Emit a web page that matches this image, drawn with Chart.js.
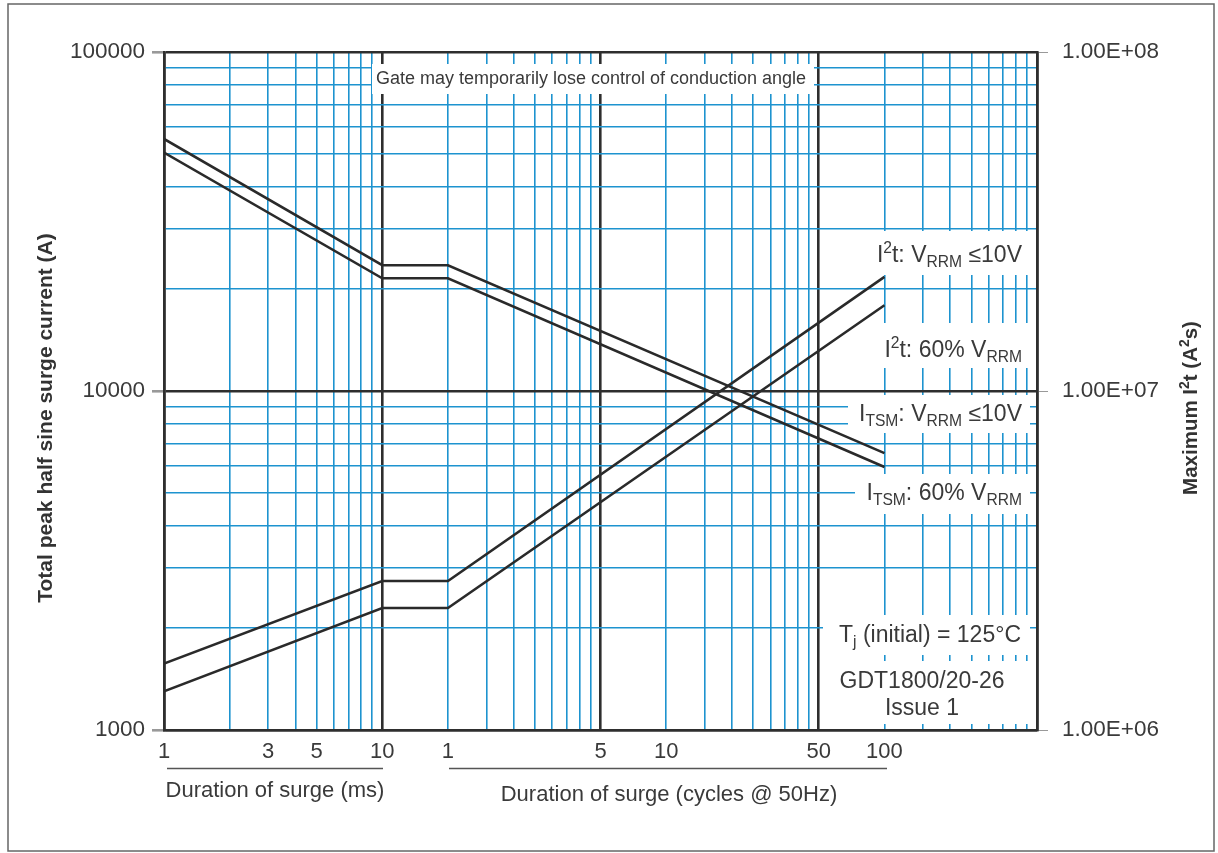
<!DOCTYPE html>
<html>
<head>
<meta charset="utf-8">
<script src="https://cdn.jsdelivr.net/npm/chart.js@4.4.1/dist/chart.umd.min.js"></script>
<style>
html,body{margin:0;padding:0;background:#fff;}
#wrap{width:1218px;height:853px;position:relative;}
</style>
</head>
<body>
<div id="wrap"><canvas id="c"></canvas></div>
<script>
// ---- data ----
const timeMs  = [1, 10, 20, 2000];               // surge duration in ms (1 cycle @50Hz = 20 ms)
const itsm10V = [55400, 23500, 23500, 6560];     // I_TSM, V_RRM <= 10V (A)
const itsm60  = [50500, 21500, 21500, 5970];     // I_TSM, 60% V_RRM (A)
const i2t10V  = [1.57e6, 2.75e6, 2.75e6, 2.17e7]; // I2t, V_RRM <= 10V (A2s)
const i2t60   = [1.30e6, 2.29e6, 2.29e6, 1.79e7]; // I2t, 60% V_RRM (A2s)

const xTickLabels = {1:'1', 3:'3', 5:'5', 10:'10', 20:'1', 100:'5', 200:'10', 1000:'50', 2000:'100'};
const xDarkLines  = [1, 10, 100, 1000, 10000];
const yTickLabels = [1000, 10000, 100000];
const yDarkLines  = [1000, 10000, 100000];
const y2TickLabels = [1e6, 1e7, 1e8];

const BLUE = '#1d93cf', DARK = '#2e2e2e', TXT = '#3a3a3a';
const FONT = '"Liberation Sans", Arial, sans-serif';

function decadeTicks(min, max){
  const out=[];
  for(let d=min; d<max; d*=10){ for(let m=1;m<10;m++) out.push({value:m*d}); }
  out.push({value:max});
  return out;
}
function near(v, list){ return list.some(a => Math.abs(v-a)/a < 1e-6); }
function sci(v){
  const e = Math.round(Math.log10(v));
  const m = v/Math.pow(10,e);
  return m.toFixed(2)+'E'+(e>=0?'+':'-')+String(Math.abs(e)).padStart(2,'0');
}

function pts(ys){ return timeMs.map((t,i)=>({x:t, y:ys[i]})); }

function drawRich(ctx, segs, x, y, align, size){
  const sub = size*0.68;
  const fontOf = s => (s.b?'bold ':'') + ((s.k==='sub'||s.k==='sup')?sub:size) + 'px ' + FONT;
  let w=0;
  segs.forEach(s=>{ ctx.font=fontOf(s); w+=ctx.measureText(s.t).width; });
  let cx = align==='right' ? x-w : align==='center' ? x-w/2 : x;
  ctx.textAlign='left'; ctx.textBaseline='alphabetic';
  segs.forEach(s=>{
    ctx.font=fontOf(s);
    let dy = s.k==='sub' ? size*0.22 : s.k==='sup' ? -size*0.40 : 0;
    ctx.fillText(s.t, cx, y+dy);
    cx += ctx.measureText(s.t).width;
  });
}

const boxes = [
  [372, 64, 814, 94],
  [858, 231, 1030, 275],
  [870, 323, 1030, 368],
  [848, 395, 1030, 433],
  [855, 474, 1030, 514],
  [823, 615, 1030, 655],
  [820, 661, 1032, 724]
];

const annot = {
  id:'annot',
  beforeDatasetsDraw(chart){
    const ctx=chart.ctx;
    ctx.save();
    ctx.fillStyle='#fff';
    boxes.forEach(b=>ctx.fillRect(b[0],b[1],b[2]-b[0],b[3]-b[1]));
    ctx.restore();
  },
  afterDraw(chart){
    const ctx=chart.ctx;
    ctx.save();
    // frame
    ctx.strokeStyle='#666'; ctx.lineWidth=1.5;
    ctx.strokeRect(8,4,1206,847);
    ctx.fillStyle=TXT;
    // gate label
    ctx.font='18px '+FONT; ctx.textAlign='center'; ctx.textBaseline='alphabetic';
    ctx.fillText('Gate may temporarily lose control of conduction angle', 591, 84);
    // curve labels
    const S=23;
    drawRich(ctx,[{t:'I'},{t:'2',k:'sup'},{t:'t: V'},{t:'RRM',k:'sub'},{t:' \u226410V'}],1022,262,'right',S);
    drawRich(ctx,[{t:'I'},{t:'2',k:'sup'},{t:'t: 60% V'},{t:'RRM',k:'sub'}],1022,357,'right',S);
    drawRich(ctx,[{t:'I'},{t:'TSM',k:'sub'},{t:': V'},{t:'RRM',k:'sub'},{t:' \u226410V'}],1022,421,'right',S);
    drawRich(ctx,[{t:'I'},{t:'TSM',k:'sub'},{t:': 60% V'},{t:'RRM',k:'sub'}],1022,500,'right',S);
    drawRich(ctx,[{t:'T'},{t:'j',k:'sub'},{t:' (initial) = 125\u00b0C'}],1021,642,'right',S);
    ctx.font=S+'px '+FONT; ctx.textAlign='center';
    ctx.fillText('GDT1800/20-26', 922, 688);
    ctx.fillText('Issue 1', 922, 715);
    // x-axis group underlines and titles
    ctx.strokeStyle='#555'; ctx.lineWidth=1.5;
    ctx.beginPath(); ctx.moveTo(167,768.5); ctx.lineTo(383,768.5);
    ctx.moveTo(449,768.5); ctx.lineTo(887,768.5); ctx.stroke();
    ctx.font='22px '+FONT; ctx.textAlign='center';
    ctx.fillText('Duration of surge (ms)', 275, 797);
    ctx.fillText('Duration of surge (cycles @ 50Hz)', 669, 801);
    // y axis titles
    ctx.fillStyle='#333';
    ctx.save(); ctx.translate(52,418); ctx.rotate(-Math.PI/2);
    ctx.font='bold 21px '+FONT; ctx.textAlign='center';
    ctx.fillText('Total peak half sine surge current (A)',0,0);
    ctx.restore();
    ctx.save(); ctx.translate(1197,408); ctx.rotate(-Math.PI/2);
    drawRich(ctx,[{t:'Maximum I',b:1},{t:'2',k:'sup',b:1},{t:'t (A',b:1},{t:'2',k:'sup',b:1},{t:'s)',b:1}],0,0,'center',20.5);
    ctx.restore();
    ctx.restore();
  }
};

const lineStyle = {borderColor:'#2a2a2a', borderWidth:2.6, pointRadius:0, tension:0, fill:false};

new Chart(document.getElementById('c'), {
  type:'line',
  data:{ datasets:[
    Object.assign({label:'ITSM VRRM<=10V', data:pts(itsm10V), yAxisID:'y'}, lineStyle),
    Object.assign({label:'ITSM 60% VRRM', data:pts(itsm60), yAxisID:'y'}, lineStyle),
    Object.assign({label:'I2t VRRM<=10V', data:pts(i2t10V), yAxisID:'y2'}, lineStyle),
    Object.assign({label:'I2t 60% VRRM', data:pts(i2t60), yAxisID:'y2'}, lineStyle)
  ]},
  plugins:[annot],
  options:{
    responsive:true, maintainAspectRatio:false, animation:false,
    layout:{padding:{top:52,left:0,right:0,bottom:0}},
    plugins:{legend:{display:false}, tooltip:{enabled:false}},
    scales:{
      x:{
        type:'logarithmic', min:1, max:10000,
        afterBuildTicks:s=>{ s.ticks=decadeTicks(1,10000); },
        afterFit:s=>{ s.height=123; },
        ticks:{autoSkip:false, maxRotation:0, padding:9, color:TXT, font:{family:FONT,size:22},
          callback:(v)=> xTickLabels[Math.round(v)] || ''},
        grid:{drawTicks:false,
          color:c=> near(c.tick.value,xDarkLines)?DARK:BLUE,
          lineWidth:c=> near(c.tick.value,xDarkLines)?2.6:1.6},
        border:{display:true,color:DARK,width:2.6}
      },
      y:{
        type:'logarithmic', position:'left', min:1000, max:100000,
        afterBuildTicks:s=>{ s.ticks=decadeTicks(1000,100000); },
        afterFit:s=>{ s.width=164; },
        ticks:{autoSkip:false, padding:7, color:TXT, font:{family:FONT,size:22.5},
          callback:(v)=> near(v,yTickLabels)?String(Math.round(v)):''},
        grid:{drawTicks:true, tickLength:12,
          tickColor:c=> near(c.tick.value,yTickLabels)?'#999':'rgba(0,0,0,0)',
          color:c=> near(c.tick.value,yDarkLines)?DARK:BLUE,
          lineWidth:c=> near(c.tick.value,yDarkLines)?2.6:1.6},
        border:{display:true,color:DARK,width:2.6}
      },
      y2:{
        type:'logarithmic', position:'right', min:1e6, max:1e8,
        afterBuildTicks:s=>{ s.ticks=y2TickLabels.map(v=>({value:v})); },
        afterFit:s=>{ s.width=181; },
        ticks:{autoSkip:false, padding:14, color:TXT, font:{family:FONT,size:22.5},
          callback:(v)=> sci(v)},
        grid:{drawOnChartArea:false, drawTicks:true, tickLength:11, tickColor:'#999'},
        border:{display:true,color:DARK,width:2.6}
      }
    }
  }
});
</script>
</body>
</html>
